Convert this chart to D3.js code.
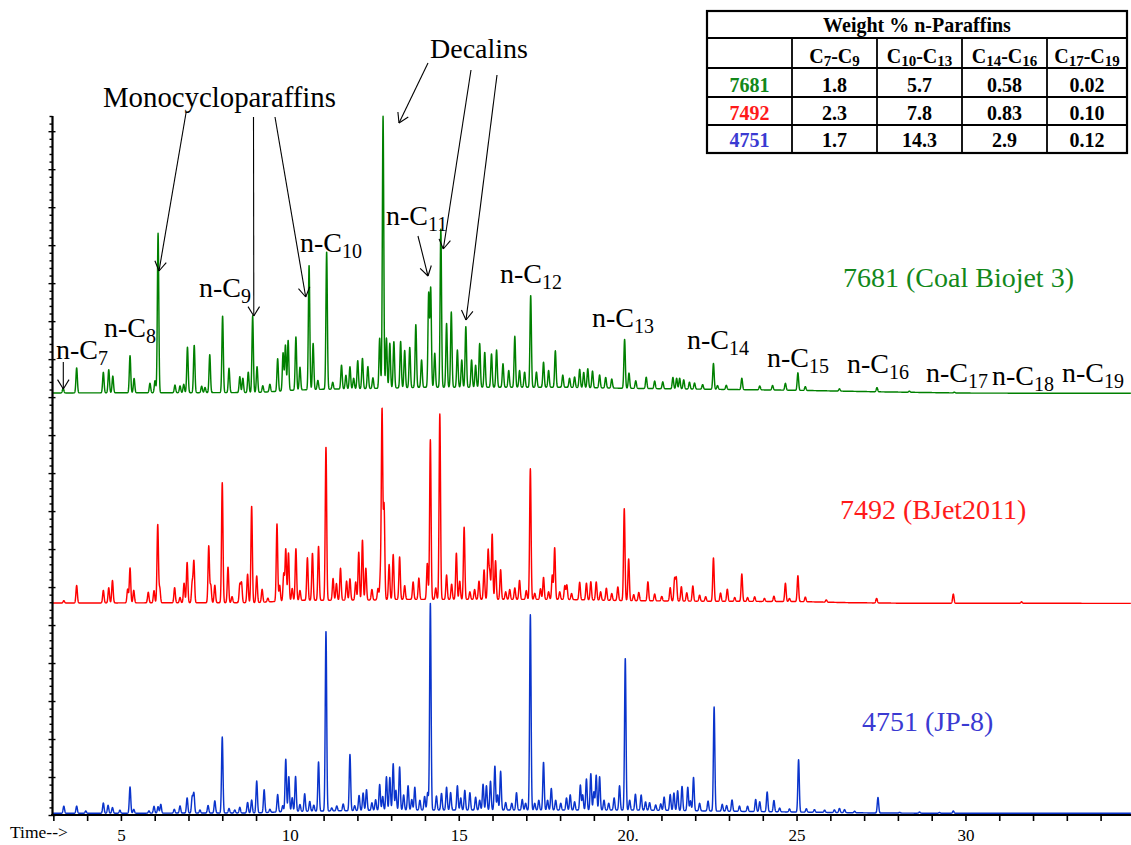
<!DOCTYPE html>
<html>
<head>
<meta charset="utf-8">
<script src="https://cdn.jsdelivr.net/npm/d3@7"></script>
<style>
  html, body { margin: 0; padding: 0; background: #fff; }
  svg { display: block; font-family: "Liberation Serif", "Times New Roman", serif; }
</style>
</head>
<body>
<svg id="chart" width="1131" height="845"></svg>
<script>
// ---- Chromatogram data: retention time (min), peak height (abundance units) ----
const seriesNames = ["7681 (Coal Biojet 3)", "7492 (BJet2011)", "4751 (JP-8)"];

const peaks7681 = [
  [3.29,0.6],[3.69,3.3],[4.48,2.7],[4.64,3.05],[4.76,2.2],[5.27,4.9],[5.39,1.9],[5.86,1.25],[6.01,1.6],[6.10,21.0],
  [6.60,1.0],[6.75,0.9],[6.86,1.1],[6.97,6.0],[7.17,6.25],[7.39,0.85],[7.49,0.7],[7.63,5.0],[8.01,10.1],[8.20,3.2],
  [8.52,2.1],[8.61,1.9],[8.77,2.7],[8.90,10.1],[9.03,3.4],[9.20,0.85],[9.41,1.0],[9.64,4.3],[9.80,5.0],[9.87,6.0],
  [9.95,6.6],[10.18,7.0],[10.30,3.0],[10.57,16.4],[10.69,6.1],[10.83,1.2],[11.09,18.1],[11.27,0.9],[11.53,3.15],[11.66,1.8],
  [11.78,2.9],[11.89,1.4],[12.01,3.7],[12.15,4.0],[12.31,2.9],[12.46,1.4],[12.66,6.6],[12.76,35.8],[12.86,6.6],[12.96,5.9],
  [13.08,6.1],[13.28,6.1],[13.40,4.9],[13.55,5.3],[13.73,8.3],[13.90,3.6],[14.11,12.3],[14.17,13.0],[14.29,4.5],[14.47,20.9],
  [14.64,8.4],[14.78,9.9],[14.96,4.9],[15.09,3.6],[15.21,8.0],[15.38,3.6],[15.50,2.9],[15.62,5.75],[15.77,4.6],[15.97,4.4],
  [16.12,4.9],[16.31,3.1],[16.48,2.2],[16.66,6.7],[16.80,2.2],[16.95,2.0],[17.13,12.1],[17.30,2.0],[17.51,3.3],[17.66,2.2],
  [17.86,4.8],[18.08,1.6],[18.28,1.2],[18.43,1.4],[18.58,2.4],[18.70,2.0],[18.82,2.5],[18.96,2.2],[19.17,1.7],[19.35,1.4],
  [19.53,1.2],[19.91,6.45],[20.04,2.0],[20.24,1.0],[20.55,1.5],[20.80,1.0],[21.04,0.9],[21.34,1.5],[21.45,1.4],[21.54,1.4],
  [21.66,1.2],[21.83,0.9],[21.98,0.8],[22.22,0.6],[22.54,3.4],[22.66,0.5],[22.92,0.55],[23.38,1.5],[23.91,0.5],[24.29,0.6],
  [24.67,0.9],[25.04,2.3],[25.26,0.5],[26.27,0.3],[27.38,0.55],[28.34,0.15],[29.67,0.1]
];

const peaks7492 = [
  [3.31,0.3],[3.69,2.3],[4.48,1.65],[4.64,2.0],[4.75,2.95],[5.20,1.8],[5.27,4.6],[5.38,1.65],[5.81,1.4],[5.98,1.6],
  [6.09,10.3],[6.15,1.9],[6.59,2.0],[6.75,0.7],[6.87,2.6],[6.96,5.3],[7.11,2.6],[7.16,5.45],[7.60,7.45],[7.66,2.3],
  [7.78,2.3],[8.00,15.8],[8.17,4.7],[8.29,0.8],[8.52,2.4],[8.57,2.6],[8.75,3.75],[8.87,12.7],[9.02,3.5],[9.18,1.7],
  [9.35,0.5],[9.62,10.2],[9.70,2.1],[9.82,3.6],[9.88,6.8],[9.96,6.3],[10.07,1.6],[10.18,6.8],[10.30,1.3],[10.52,5.6],
  [10.67,6.2],[10.85,7.1],[11.07,20.2],[11.28,2.85],[11.38,2.2],[11.50,4.2],[11.68,2.5],[11.78,2.8],[11.95,2.4],[12.04,6.3],
  [12.15,7.9],[12.25,4.2],[12.43,1.4],[12.61,1.5],[12.68,3.0],[12.73,24.9],[12.79,12.3],[12.94,4.6],[13.06,5.9],[13.25,5.6],
  [13.40,1.8],[13.65,2.3],[13.82,2.8],[14.07,4.75],[14.16,21.0],[14.32,1.5],[14.44,24.4],[14.64,3.2],[14.79,2.0],[14.93,6.1],
  [15.03,2.4],[15.16,9.5],[15.33,1.0],[15.47,1.3],[15.60,2.4],[15.75,3.9],[15.87,6.4],[15.92,3.4],[15.99,8.6],[16.09,5.1],
  [16.24,3.9],[16.39,1.0],[16.51,1.3],[16.66,1.5],[16.80,2.5],[17.00,1.15],[17.12,17.2],[17.25,0.8],[17.42,1.4],[17.51,2.9],
  [17.66,1.0],[17.77,3.2],[17.84,6.8],[17.99,1.0],[18.14,1.8],[18.20,1.9],[18.34,0.8],[18.58,2.3],[18.78,2.2],[18.91,2.4],
  [19.07,2.4],[19.20,1.1],[19.37,1.6],[19.53,0.9],[19.71,1.8],[19.90,12.1],[20.03,5.5],[20.18,0.8],[20.33,1.1],[20.60,2.5],
  [20.80,0.9],[21.01,0.6],[21.26,1.75],[21.39,2.9],[21.44,3.0],[21.59,1.9],[21.75,1.1],[21.93,2.0],[22.13,0.8],[22.31,0.6],
  [22.54,5.7],[22.75,1.1],[22.95,1.6],[23.17,0.5],[23.38,3.6],[23.55,0.5],[23.76,0.6],[24.05,0.4],[24.33,0.7],[24.67,2.4],
  [24.79,0.4],[25.04,3.4],[25.26,0.6],[25.88,0.3],[27.37,0.6],[29.64,1.2],[31.66,0.2]
];

const peaks4751 = [
  [3.31,0.95],[3.69,0.95],[3.96,0.3],[4.48,1.35],[4.62,1.05],[4.75,0.75],[4.97,0.4],[5.27,3.45],[5.38,0.5],[5.83,0.3],
  [5.98,0.9],[6.10,0.85],[6.18,1.15],[6.58,0.5],[6.75,0.95],[6.96,2.0],[7.11,2.1],[7.16,2.6],[7.34,0.4],[7.58,1.0],
  [7.78,1.6],[8.00,10.0],[8.20,0.6],[8.37,0.4],[8.52,0.75],[8.75,1.4],[8.87,1.7],[9.02,4.2],[9.24,3.0],[9.41,0.4],
  [9.64,2.3],[9.79,0.8],[9.88,6.9],[9.97,4.6],[10.07,1.8],[10.17,4.6],[10.30,0.9],[10.44,2.3],[10.59,1.3],[10.71,0.8],
  [10.85,6.5],[11.07,23.7],[11.24,0.4],[11.39,0.65],[11.58,0.9],[11.78,7.4],[11.92,0.65],[12.05,2.0],[12.17,2.3],[12.27,2.75],
  [12.43,1.0],[12.54,1.4],[12.66,3.4],[12.75,1.8],[12.86,4.4],[12.96,4.3],[13.06,6.1],[13.14,2.6],[13.25,5.7],[13.37,2.0],
  [13.50,3.2],[13.61,1.4],[13.70,3.0],[13.85,1.3],[13.99,1.8],[14.08,2.3],[14.16,27.2],[14.34,1.85],[14.49,2.2],[14.64,3.0],
  [14.76,2.3],[14.96,3.2],[15.06,1.6],[15.18,2.6],[15.33,2.3],[15.50,1.7],[15.62,1.3],[15.72,3.4],[15.82,3.2],[15.94,3.8],
  [16.07,5.8],[16.15,2.0],[16.24,5.1],[16.39,1.0],[16.57,0.9],[16.71,2.3],[16.88,1.4],[16.98,0.9],[17.12,25.7],[17.25,0.9],
  [17.37,1.3],[17.51,6.3],[17.63,1.3],[17.74,2.85],[17.87,1.3],[18.02,0.9],[18.19,1.6],[18.30,2.0],[18.43,1.1],[18.60,3.3],
  [18.67,2.0],[18.78,4.1],[18.91,4.8],[19.00,2.4],[19.07,4.6],[19.17,4.4],[19.30,1.3],[19.44,0.9],[19.60,1.6],[19.76,3.2],
  [19.93,20.0],[20.06,1.3],[20.23,2.1],[20.40,2.0],[20.53,1.1],[20.65,1.0],[20.83,0.7],[20.98,0.85],[21.08,1.75],[21.26,2.1],
  [21.37,2.3],[21.48,2.6],[21.61,3.2],[21.78,3.1],[21.86,1.3],[21.95,4.4],[22.13,1.0],[22.38,1.3],[22.56,13.7],[22.80,0.9],
  [22.93,0.75],[23.09,1.5],[23.31,0.7],[23.55,0.7],[23.79,1.6],[23.91,1.3],[24.13,2.6],[24.33,1.5],[24.50,0.5],[24.79,0.4],
  [25.06,6.9],[25.29,0.45],[25.53,0.35],[25.83,0.3],[26.12,0.35],[26.27,0.55],[26.42,0.4],[26.72,0.2],[27.41,2.05],[28.05,0.1],
  [28.64,0.15],[29.23,0.1],[29.64,0.3]
];

// Unresolved baseline rise under each trace: [time, level]
const hump7681 = [[3,0.05],[9,0.1],[9.6,0.25],[10,0.4],[11,0.53],[12.7,0.66],[14,0.8],[18,0.8],[20,0.66],[22.5,0.53],[25,0.4],[27.4,0.2],[30,0.03],[35,0]];
const hump7492 = [[3,0.05],[9,0.1],[9.6,0.26],[10.2,0.4],[12.5,0.45],[13,0.53],[18,0.53],[20,0.36],[22.5,0.28],[25,0.25],[26.5,0.1],[28,0.03],[35,0]];
const hump4751 = [[3,0],[9,0.05],[10,0.25],[11,0.3],[13,0.43],[20,0.43],[21,0.4],[22.5,0.3],[25,0.17],[27.4,0.04],[30,0],[35,0]];

// Axis ticks
const timeTicks = d3.range(3, 35);
const timeLabels = {5: "5", 10: "10", 15: "15", 20: "20.", 25: "25", 30: "30"};

// n-paraffin carbon numbers annotated on the top trace
const carbonNumbers = [7, 8, 9, 10, 11, 12, 13, 14, 15, 16, 17, 18, 19];

// Table of weight % n-paraffins
const tableTitle = "Weight % n-Paraffins";
const carbonRanges = [[7, 9], [10, 13], [14, 16], [17, 19]];
const tableSamples = ["7681", "7492", "4751"];
const tableValues = [
  ["1.8", "5.7", "0.58", "0.02"],
  ["2.3", "7.8", "0.83", "0.10"],
  ["1.7", "14.3", "2.9", "0.12"]
];

// ---- Drawing ----
const SERIF = "Liberation Serif, Times New Roman, serif";
const svg = d3.select("#chart");
const x = d3.scaleLinear().domain([2.96, 34.9]).range([52, 1131]);
const y = d3.scaleLinear().domain([0, 92]).range([815, 116]);

const series = [
  { name: seriesNames[0], peaks: peaks7681, hump: hump7681, offset: 55.5, color: "#008000", label: "#12881a", lx: 843, ly: 287 },
  { name: seriesNames[1], peaks: peaks7492, hump: hump7492, offset: 27.85, color: "#ff0000", label: "#ff1a1a", lx: 840, ly: 519 },
  { name: seriesNames[2], peaks: peaks4751, hump: hump4751, offset: 0.22, color: "#0a34cc", label: "#3a3ad2", lx: 862, ly: 731 }
];

const sigma = 0.021;
const grid = d3.range(2.96, 34.9, 0.004);
const line = d3.line().x(d => x(d[0])).y(d => y(d[1]));

series.forEach(s => {
  const base = d3.scaleLinear().domain(s.hump.map(d => d[0])).range(s.hump.map(d => d[1])).clamp(true);
  const pts = grid.map(t => {
    let v = s.offset + base(t);
    for (const [tp, h] of s.peaks) {
      const z = (t - tp) / sigma;
      if (z > -6 && z < 6) v += h * Math.exp(-0.5 * z * z);
    }
    return [t, v];
  });
  svg.append("path").datum(pts)
    .attr("d", line)
    .attr("fill", "none")
    .attr("stroke", s.color)
    .attr("stroke-width", 1.45)
    .attr("stroke-linejoin", "round");

  svg.append("text")
    .attr("x", s.lx).attr("y", s.ly)
    .attr("font-family", SERIF)
    .attr("font-size", 28)
    .attr("fill", s.label)
    .text(s.name);
});

// Bottom time axis
const xAxis = d3.axisBottom(x)
  .tickValues(timeTicks)
  .tickSize(6)
  .tickPadding(8)
  .tickFormat(d => timeLabels[d] || "");
const gx = svg.append("g").attr("transform", "translate(0,815)").call(xAxis)
  .attr("font-family", SERIF).attr("font-size", 17);
gx.select(".domain").remove();
gx.selectAll(".tick line").attr("stroke", "#000").attr("stroke-width", 1.6);
gx.selectAll(".tick text").attr("fill", "#000");
svg.append("line").attr("x1", 51).attr("x2", 1131).attr("y1", 815).attr("y2", 815)
  .attr("stroke", "#000").attr("stroke-width", 2.2);
svg.append("text").attr("x", 10).attr("y", 838).attr("font-family", SERIF).attr("font-size", 17.5).text("Time-->");

// Left abundance axis (unlabelled)
const yAxis = d3.axisLeft(y)
  .tickValues(d3.range(0, 93))
  .tickSize(3)
  .tickFormat("");
const gy = svg.append("g").attr("transform", "translate(52.5,0)").call(yAxis);
gy.select(".domain").remove();
gy.selectAll(".tick line").attr("stroke", "#000").attr("stroke-width", 1.4)
  .attr("x2", d => d % 5 === 0 ? -4 : -3)
  .attr("x1", d => d % 5 === 0 ? 3 : 0);
svg.append("line").attr("x1", 52.5).attr("x2", 52.5).attr("y1", y(92)).attr("y2", 816)
  .attr("stroke", "#000").attr("stroke-width", 2.2);

// Annotations
const ann = svg.append("g").attr("fill", "#000").attr("font-family", SERIF);
const labelPos = {
  7: [56, 359], 8: [104, 337], 9: [199, 297], 10: [300, 252], 11: [386, 225], 12: [500, 283],
  13: [592, 327], 14: [687, 349], 15: [767, 367], 16: [847, 373], 17: [926, 382], 18: [992, 385], 19: [1062, 382]
};
carbonNumbers.forEach(n => {
  const [lx, ly] = labelPos[n];
  const t = ann.append("text").attr("x", lx).attr("y", ly).attr("font-size", 28);
  t.append("tspan").text("n-C");
  t.append("tspan").attr("font-size", 20).attr("dy", 6).text(n);
});
ann.append("text").attr("x", 103).attr("y", 107).attr("font-size", 28.8).text("Monocycloparaffins");
ann.append("text").attr("x", 430).attr("y", 58).attr("font-size", 28).text("Decalins");

function arrow(x1, y1, x2, y2) {
  const g = svg.append("g").attr("stroke", "#000").attr("stroke-width", 1.1).attr("fill", "none");
  g.append("line").attr("x1", x1).attr("y1", y1).attr("x2", x2).attr("y2", y2);
  const a = Math.atan2(y2 - y1, x2 - x1), L = 11, A = 0.55;
  [-1, 1].forEach(s => {
    g.append("line").attr("x1", x2).attr("y1", y2)
      .attr("x2", x2 - L * Math.cos(a + s * A))
      .attr("y2", y2 - L * Math.sin(a + s * A));
  });
}
arrow(63.3, 362, 63.3, 389);
arrow(186, 113, 159, 271);
arrow(253.5, 117, 253.8, 316);
arrow(275, 117, 305.7, 297);
arrow(428, 63, 399, 123);
arrow(471, 70, 443.3, 249);
arrow(497, 75, 466, 320);
arrow(418, 236, 428, 276);

// Table
const cols = [707, 792, 877, 962, 1047, 1127];
const rows = [11, 38, 68, 97, 125, 153];
const tg = svg.append("g").attr("font-family", SERIF);
tg.append("rect").attr("x", cols[0]).attr("y", rows[0])
  .attr("width", cols[5] - cols[0]).attr("height", rows[5] - rows[0])
  .attr("fill", "#fff").attr("stroke", "#000").attr("stroke-width", 2.2);
rows.slice(1, 5).forEach(r => tg.append("line").attr("x1", cols[0]).attr("x2", cols[5])
  .attr("y1", r).attr("y2", r).attr("stroke", "#000").attr("stroke-width", 1.8));
cols.slice(1, 5).forEach(c => tg.append("line").attr("x1", c).attr("x2", c)
  .attr("y1", rows[1]).attr("y2", rows[5]).attr("stroke", "#000").attr("stroke-width", 1.8));

tg.append("text").attr("x", (cols[0] + cols[5]) / 2).attr("y", 31.5)
  .attr("text-anchor", "middle").attr("font-size", 20).attr("font-weight", "bold").text(tableTitle);

carbonRanges.forEach((rg, i) => {
  const t = tg.append("text").attr("x", (cols[i + 1] + cols[i + 2]) / 2).attr("y", 62.5)
    .attr("text-anchor", "middle").attr("font-size", 20).attr("font-weight", "bold");
  t.append("tspan").text("C");
  t.append("tspan").attr("font-size", 15).attr("dy", 3).text(rg[0]);
  t.append("tspan").attr("dy", -3).text("-C");
  t.append("tspan").attr("font-size", 15).attr("dy", 3).text(rg[1]);
});

const rowBase = [91.5, 119.5, 147];
tableSamples.forEach((id, r) => {
  tg.append("text").attr("x", (cols[0] + cols[1]) / 2).attr("y", rowBase[r])
    .attr("text-anchor", "middle").attr("font-size", 20).attr("font-weight", "bold")
    .attr("fill", series[r].label).text(id);
  tableValues[r].forEach((v, c) => {
    tg.append("text").attr("x", (cols[c + 1] + cols[c + 2]) / 2).attr("y", rowBase[r])
      .attr("text-anchor", "middle").attr("font-size", 20).attr("font-weight", "bold").text(v);
  });
});
</script>
</body>
</html>
